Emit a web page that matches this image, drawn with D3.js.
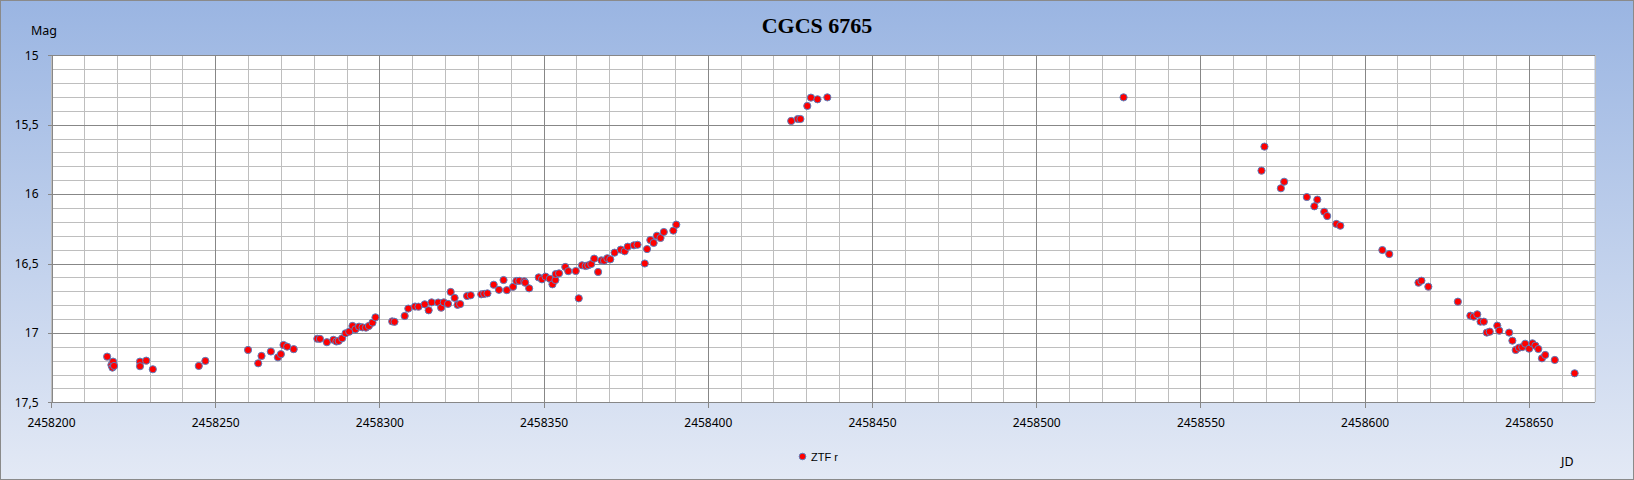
<!DOCTYPE html>
<html>
<head>
<meta charset="utf-8">
<script src="https://cdn.jsdelivr.net/npm/d3@7"></script>
<style>
html,body{margin:0;padding:0;background:#fff;}
svg{display:block;}
</style>
</head>
<body>
<svg id="chart" width="1634" height="480"></svg>
<script>
// ---- data ----
const title = "CGCS 6765";
const seriesName = "ZTF r";
const yLabel = "Mag";
const xLabel = "JD";
const xTicks = [2458200, 2458250, 2458300, 2458350, 2458400, 2458450, 2458500, 2458550, 2458600, 2458650];
const yTicks = [15, 15.5, 16, 16.5, 17, 17.5];

const jd = [
  2458217.1, 2458218.4, 2458218.7, 2458218.9, 2458219.2,
  2458227.1, 2458227.1, 2458229.0, 2458231.0,
  2458245.0, 2458247.0,
  2458260.0, 2458263.1, 2458264.1, 2458266.95, 2458269.1, 2458270.0, 2458270.8, 2458271.9, 2458273.9,
  2458281.1, 2458281.9, 2458284.0, 2458286.0, 2458286.9, 2458287.6, 2458288.65, 2458289.7, 2458290.8, 2458291.8,
  2458292.7, 2458293.8, 2458294.85, 2458295.9, 2458296.8, 2458297.9, 2458298.8,
  2458303.9, 2458304.6, 2458307.7, 2458308.8, 2458310.85, 2458311.9, 2458313.8, 2458315.0, 2458315.9, 2458317.9,
  2458318.8, 2458319.6, 2458320.9, 2458321.7, 2458322.9, 2458323.8, 2458324.6, 2458326.7, 2458327.8, 2458331.0,
  2458331.9, 2458332.9, 2458334.8, 2458336.4, 2458337.8, 2458338.8, 2458340.7, 2458341.7, 2458342.6, 2458344.1,
  2458344.4, 2458345.6,
  2458348.5, 2458349.5, 2458350.6, 2458351.9, 2458352.7, 2458353.6, 2458353.7, 2458354.7, 2458356.6, 2458357.5,
  2458359.8, 2458360.7, 2458361.7, 2458362.8, 2458363.6, 2458364.5, 2458365.4, 2458366.6, 2458367.6, 2458368.4,
  2458369.4, 2458370.3, 2458371.6, 2458373.5, 2458374.7, 2458375.6, 2458377.5, 2458378.6, 2458380.8, 2458381.5,
  2458382.5, 2458383.5, 2458384.5, 2458385.6, 2458386.6, 2458389.5, 2458390.4,
  2458425.4, 2458427.4, 2458428.2, 2458430.3, 2458431.4, 2458433.4, 2458436.4,
  2458526.6,
  2458568.6, 2458569.5, 2458574.5, 2458575.5, 2458582.4, 2458584.7, 2458585.6, 2458587.7, 2458588.6, 2458591.4,
  2458592.6, 2458605.4, 2458607.5, 2458616.4, 2458617.3, 2458619.4, 2458628.4, 2458632.2, 2458633.2, 2458634.3,
  2458635.3, 2458636.3, 2458637.2, 2458638.1, 2458640.4, 2458641.0, 2458644.0, 2458645.0, 2458646.0, 2458647.0,
  2458648.0, 2458648.9, 2458650.1, 2458651.1, 2458652.0, 2458652.9, 2458654.0, 2458655.0, 2458657.9, 2458663.95
];
const mag = [
  17.171, 17.231, 17.250, 17.207, 17.238,
  17.207, 17.240, 17.200, 17.262,
  17.238, 17.202,
  17.123, 17.219, 17.166, 17.134, 17.176, 17.153, 17.087, 17.099, 17.117,
  17.042, 17.043, 17.067, 17.050, 17.062, 17.058, 17.039, 17.003, 16.991, 16.950,
  16.974, 16.955, 16.960, 16.962, 16.950, 16.926, 16.888,
  16.917, 16.920, 16.878, 16.825, 16.810, 16.811, 16.794, 16.837, 16.780, 16.781,
  16.818, 16.780, 16.791, 16.705, 16.748, 16.798, 16.792, 16.734, 16.729, 16.722,
  16.719, 16.715, 16.653, 16.690, 16.619, 16.692, 16.668, 16.626, 16.625, 16.628,
  16.638, 16.679,
  16.600, 16.614, 16.595, 16.610, 16.650, 16.619, 16.576, 16.571, 16.525, 16.555,
  16.554, 16.751, 16.513, 16.518, 16.513, 16.504, 16.465, 16.561, 16.477, 16.480,
  16.462, 16.470, 16.422, 16.400, 16.412, 16.379, 16.369, 16.365, 16.500, 16.396,
  16.331, 16.352, 16.300, 16.316, 16.273, 16.263, 16.220,
  15.473, 15.459, 15.459, 15.365, 15.305, 15.317, 15.303,
  15.303,
  15.831, 15.658, 15.958, 15.911, 16.021, 16.088, 16.040, 16.127, 16.158, 16.215,
  16.228, 16.403, 16.432, 16.638, 16.624, 16.667, 16.775, 16.876, 16.883, 16.866,
  16.919, 16.919, 16.998, 16.991, 16.948, 16.984, 16.998, 17.056, 17.123, 17.107,
  17.102, 17.078, 17.114, 17.075, 17.092, 17.116, 17.183, 17.159, 17.195, 17.291
];

// ---- drawing ----
const W = 1634, H = 480;
const plot = {left: 51, right: 1594.5, top: 55.3, bottom: 402.3};
const svg = d3.select("#chart");

const defs = svg.append("defs");
const grad = defs.append("linearGradient").attr("id", "bg").attr("x1", 0).attr("y1", 0).attr("x2", 0).attr("y2", 1);
grad.append("stop").attr("offset", "0%").attr("stop-color", "#9ab5e2");
grad.append("stop").attr("offset", "100%").attr("stop-color", "#e3e9f5");

svg.append("rect").attr("x", 0.5).attr("y", 0.5).attr("width", W - 1).attr("height", H - 1)
  .attr("fill", "url(#bg)").attr("stroke", "#8a8a8a").attr("stroke-width", 1);

const x = d3.scaleLinear().domain([2458200, 2458670]).range([plot.left, plot.right]);
const y = d3.scaleLinear().domain([15, 17.5]).range([plot.top, plot.bottom]);

svg.append("rect").attr("x", plot.left).attr("y", plot.top)
  .attr("width", plot.right - plot.left).attr("height", plot.bottom - plot.top).attr("fill", "#fff");

// gridlines
const minorX = d3.range(2458200, 2458670.001, 10);
const minorY = d3.range(0, 26).map(i => 15 + i * 0.1);
const g = svg.append("g").attr("shape-rendering", "crispEdges");
g.selectAll(".mx").data(minorX).join("line")
  .attr("x1", d => Math.round(x(d)) + 0.5).attr("x2", d => Math.round(x(d)) + 0.5)
  .attr("y1", plot.top).attr("y2", plot.bottom).attr("stroke", "#bebebe");
g.selectAll(".my").data(minorY).join("line")
  .attr("y1", d => Math.round(y(d)) + 0.5).attr("y2", d => Math.round(y(d)) + 0.5)
  .attr("x1", plot.left).attr("x2", plot.right).attr("stroke", "#bebebe");
g.selectAll(".Mx").data(xTicks.slice(1)).join("line")
  .attr("x1", d => Math.round(x(d)) + 0.5).attr("x2", d => Math.round(x(d)) + 0.5)
  .attr("y1", plot.top).attr("y2", plot.bottom).attr("stroke", "#878787");
g.selectAll(".My").data(yTicks).join("line")
  .attr("y1", d => Math.round(y(d)) + 0.5).attr("y2", d => Math.round(y(d)) + 0.5)
  .attr("x1", plot.left).attr("x2", plot.right).attr("stroke", "#878787");

// axes
const fmtY = d => String(d).replace(".", ",");
const yAxis = svg.append("g").attr("transform", `translate(${Math.round(plot.left) + 0.5},0)`)
  .call(d3.axisLeft(y).tickValues(yTicks).tickFormat(fmtY).tickSize(4).tickPadding(9));
const xAxis = svg.append("g").attr("transform", `translate(0,${Math.round(plot.bottom) + 0.5})`)
  .call(d3.axisBottom(x).tickValues(xTicks).tickFormat(d3.format("d")).tickSize(5).tickPadding(11));
[xAxis, yAxis].forEach(a => {
  a.select(".domain").attr("stroke", "#878787").attr("shape-rendering", "crispEdges");
  a.selectAll(".tick line").attr("stroke", "#878787").attr("shape-rendering", "crispEdges");
  a.selectAll(".tick text").attr("fill", "#000").style("font-family", "'Noto Sans', sans-serif").style("font-size", "12px");
});
xAxis.select(".domain").remove();
xAxis.append("line").attr("x1", plot.left).attr("x2", plot.right).attr("y1", 0).attr("y2", 0)
  .attr("stroke", "#878787").attr("shape-rendering", "crispEdges");

// title and labels
svg.append("text").attr("x", 817).attr("y", 33).attr("text-anchor", "middle")
  .style("font-family", "'Liberation Serif', serif").style("font-weight", "bold").style("font-size", "22px")
  .attr("fill", "#000").text(title);
svg.append("text").attr("x", 31).attr("y", 35)
  .style("font-family", "'Noto Sans', sans-serif").style("font-size", "12.5px").attr("fill", "#000").text(yLabel);
svg.append("text").attr("x", 1561).attr("y", 466)
  .style("font-family", "'Noto Sans', sans-serif").style("font-size", "12.5px").attr("fill", "#000").text(xLabel);

// points
const pts = jd.map((d, i) => ({jd: d, mag: mag[i]}));
svg.append("g").selectAll("circle").data(pts).join("circle")
  .attr("cx", d => x(d.jd)).attr("cy", d => y(d.mag)).attr("r", 3.6)
  .attr("fill", "#ff0000").attr("stroke", "#5a7fbf").attr("stroke-width", 1);

// legend
svg.append("circle").attr("cx", 802.5).attr("cy", 456.5).attr("r", 3.3)
  .attr("fill", "#ff0000").attr("stroke", "#5a7fbf").attr("stroke-width", 1);
svg.append("text").attr("x", 811).attr("y", 460.5)
  .style("font-family", "'Liberation Sans', sans-serif").style("font-size", "11px").attr("fill", "#000").text(seriesName);
</script>
</body>
</html>
